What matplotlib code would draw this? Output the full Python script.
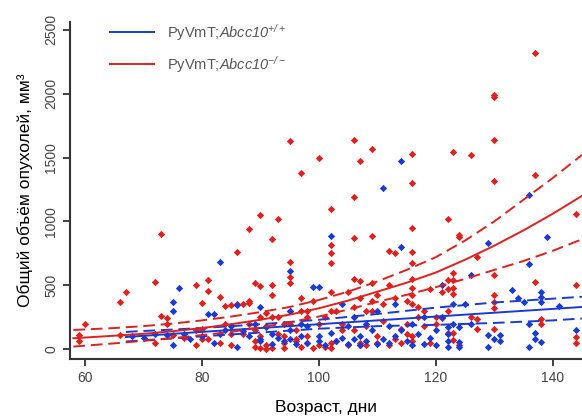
import matplotlib
matplotlib.use("Agg")
import matplotlib.pyplot as plt
import numpy as np

plt.rcParams['font.family'] = ['Liberation Sans', 'DejaVu Sans']
plt.rcParams['mathtext.fontset'] = 'custom'
plt.rcParams['mathtext.rm'] = 'Liberation Sans:italic'
plt.rcParams['mathtext.it'] = 'Liberation Sans:italic'

# точки: (возраст, объём)
red_points = [
    (60, 196), (59, 110), (59, 60), (66, 368), (67, 447), (66, 110), (72, 525), (72, 50),
    (73, 900), (73, 260), (74, 240), (74, 200), (75, 110), (77, 90), (79, 502), (79, 30),
    (79, 150), (80, 360), (80, 80), (80, 160), (81, 541), (81, 455), (81, 80), (83, 410),
    (83, 50), (84, 340), (84, 200), (85, 345), (85, 30), (85, 120), (86, 762), (86, 350),
    (87, 350), (87, 120), (88, 940), (88, 360), (88, 380), (88, 200), (89, 517), (89, 60),
    (89, 20), (89, 150), (90, 1050), (90, 494), (90, 100), (90, 10), (90, 250), (91, 0),
    (91, 180), (91, 30), (91, 280), (92, 862), (92, 502), (92, 423), (92, 10), (92, 250),
    (93, 1021), (93, 250), (93, 120), (94, 100), (94, 200), (94, 50), (94, 10), (95, 1630),
    (95, 682), (95, 564), (95, 517), (95, 300), (95, 200), (96, 150), (96, 60), (96, 80),
    (97, 1379), (97, 400), (97, 300), (97, 20), (98, 300), (98, 250), (98, 50), (98, 100),
    (99, 380), (99, 10), (100, 1497), (100, 30), (100, 200), (101, 20), (101, 250),
    (102, 1097), (102, 815), (102, 752), (102, 674), (102, 450), (102, 300), (102, 50),
    (102, 10), (103, 60), (103, 300), (104, 200), (104, 150), (105, 450), (105, 30),
    (106, 1638), (106, 1191), (106, 870), (106, 550), (106, 330), (106, 250), (106, 150),
    (107, 1473), (107, 530), (107, 400), (107, 30), (107, 50), (108, 300), (108, 180),
    (108, 30), (109, 1567), (109, 886), (109, 520), (109, 380), (109, 300), (110, 420),
    (110, 100), (110, 50), (111, 220), (111, 350), (112, 768), (112, 500), (112, 30),
    (113, 752), (113, 400), (113, 80), (114, 160), (114, 50), (115, 380), (115, 200),
    (115, 120), (116, 1528), (116, 1301), (116, 948), (116, 760), (116, 674), (116, 550),
    (116, 480), (116, 420), (116, 350), (116, 100), (116, 60), (117, 330), (117, 250),
    (118, 300), (118, 180), (119, 470), (119, 50), (120, 200), (120, 250), (121, 240),
    (121, 450), (122, 1019), (122, 540), (122, 470), (122, 300), (122, 130), (123, 1544),
    (123, 596), (123, 540), (123, 480), (123, 430), (123, 125), (123, 70), (124, 893),
    (124, 880), (124, 30), (126, 1520), (126, 250), (127, 721), (127, 235), (127, 157),
    (130, 1977), (130, 1990), (130, 1638), (130, 1317), (130, 580), (130, 423), (130, 370),
    (130, 321), (130, 157), (137, 2322), (137, 1364), (137, 525), (138, 235), (138, 196),
    (144, 1058), (144, 502), (144, 94), (144, 47),
]
blue_points = [
    (68, 100), (70, 90), (72, 120), (74, 110), (75, 368), (75, 298), (75, 30), (76, 478),
    (77, 120), (78, 80), (80, 100), (81, 274), (82, 274), (82, 50), (83, 682), (83, 120),
    (84, 150), (85, 180), (86, 345), (86, 20), (87, 140), (88, 100), (89, 200), (90, 330),
    (90, 80), (90, 60), (91, 170), (92, 120), (92, 40), (93, 90), (94, 60), (95, 611),
    (95, 300), (95, 150), (95, 80), (96, 40), (97, 200), (97, 100), (98, 180), (98, 50),
    (99, 488), (100, 488), (100, 100), (100, 60), (101, 30), (102, 886), (102, 130),
    (103, 60), (104, 350), (104, 90), (105, 180), (105, 40), (106, 250), (106, 80),
    (107, 100), (107, 30), (108, 200), (108, 60), (109, 150), (110, 300), (110, 40),
    (111, 1262), (111, 80), (112, 180), (112, 50), (113, 350), (113, 100), (114, 1476),
    (114, 800), (114, 150), (115, 60), (116, 200), (116, 30), (117, 120), (118, 250),
    (118, 40), (119, 90), (120, 150), (120, 30), (121, 500), (121, 250), (122, 172),
    (122, 120), (122, 60), (122, 16), (123, 350), (123, 200), (124, 172), (124, 54),
    (124, 16), (125, 350), (126, 580), (126, 200), (129, 831), (129, 110), (129, 16),
    (130, 80), (131, 110), (131, 60), (133, 462), (134, 400), (135, 368), (136, 1207),
    (136, 666), (136, 196), (136, 16), (137, 125), (137, 80), (138, 447), (138, 408),
    (138, 368), (138, 55), (139, 878), (141, 337), (144, 150),
]

# аппроксимация и доверительные границы
red_fit_x = [58, 65, 70, 75, 80, 85, 90, 95, 100, 105, 110, 115, 120, 125, 130, 135, 140, 145]
red_fit = [85, 105, 120, 140, 165, 195, 230, 270, 320, 380, 450, 520, 600, 700, 810, 930, 1060, 1200]
red_hi = [150, 165, 180, 200, 225, 255, 290, 330, 385, 450, 530, 620, 720, 850, 1000, 1170, 1340, 1520]
red_lo = [20, 45, 65, 85, 110, 135, 170, 210, 255, 310, 370, 425, 485, 550, 620, 690, 770, 860]

blue_fit_x = [67, 80, 90, 100, 110, 120, 130, 140, 145]
blue_fit = [95, 135, 165, 195, 225, 255, 285, 315, 330]
blue_hi = [135, 165, 195, 230, 275, 325, 365, 395, 410]
blue_lo = [60, 100, 130, 160, 180, 190, 205, 225, 240]

RED = '#e0201c'
BLUE = '#1a3ad6'

fig = plt.figure(figsize=(5.82, 4.19), dpi=100)
ax = fig.add_axes([0.120, 0.143, 0.880, 0.805])

rx, ry = zip(*red_points)
bx, by = zip(*blue_points)
ax.scatter(rx, ry, s=14, marker='D', color=RED, linewidths=0, zorder=3)
ax.scatter(bx, by, s=14, marker='D', color=BLUE, linewidths=0, zorder=3)

ax.plot(blue_fit_x, blue_fit, color=BLUE, lw=1.4, zorder=4)
ax.plot(blue_fit_x, blue_hi, color=BLUE, lw=1.4, ls=(0, (6, 3)), zorder=4)
ax.plot(blue_fit_x, blue_lo, color=BLUE, lw=1.4, ls=(0, (6, 3)), zorder=4)
ax.plot(red_fit_x, red_fit, color=RED, lw=1.4, zorder=4)
ax.plot(red_fit_x, red_hi, color=RED, lw=1.4, ls=(0, (6, 3)), zorder=4)
ax.plot(red_fit_x, red_lo, color=RED, lw=1.4, ls=(0, (6, 3)), zorder=4)

ax.set_xlim(57.4, 145)
ax.set_ylim(-78, 2563)
ax.set_xticks([60, 80, 100, 120, 140])
ax.set_yticks([0, 500, 1000, 1500, 2000, 2500])
for lbl in ax.get_yticklabels():
    lbl.set_rotation(90)
    lbl.set_va('center')
ax.tick_params(axis='both', colors='#333333', labelcolor='#444444', labelsize=10,
               length=5, width=1.3, direction='out')
for side in ['top', 'right']:
    ax.spines[side].set_visible(False)
for side in ['left', 'bottom']:
    ax.spines[side].set_color('#333333')
    ax.spines[side].set_linewidth(1.5)

ax.set_xlabel('Возраст, дни', fontsize=12.5, labelpad=11)
ax.set_ylabel('Общий объём опухолей, мм³', fontsize=12.5, labelpad=8)

h1, = ax.plot([], [], color=BLUE, lw=1.4)
h2, = ax.plot([], [], color=RED, lw=1.4)
leg = ax.legend([h1, h2], [r'PyVmT;$\mathrm{Abcc10}^{+/+}$', r'PyVmT;$\mathrm{Abcc10}^{-/-}$'],
                loc='upper left', bbox_to_anchor=(0.078, 1.0), frameon=False,
                fontsize=10.5, handlelength=3.0, handletextpad=0.9, labelspacing=0.75,
                borderpad=0, borderaxespad=0)
for t in leg.get_texts():
    t.set_color('#555555')

fig.savefig('out.png', dpi=100)
